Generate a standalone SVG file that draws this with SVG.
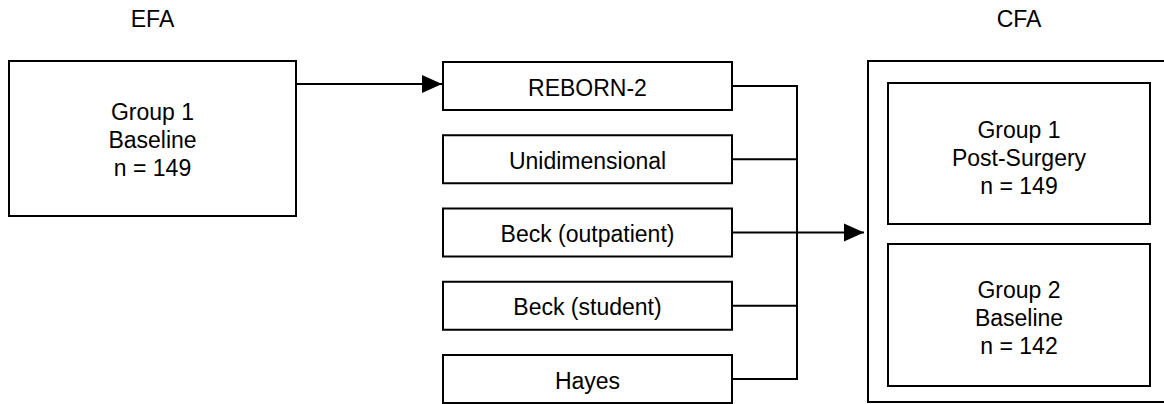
<svg xmlns="http://www.w3.org/2000/svg" width="1164" height="404" viewBox="0 0 1164 404">
<style>
.box{fill:#fff;stroke:#000;stroke-width:2}
.t{font-family:"Liberation Sans",Arial,sans-serif;font-size:23px;fill:#000;text-anchor:middle}
.c{fill:none;stroke:#000;stroke-width:2}
</style>
<defs>
<marker id="ah" markerUnits="userSpaceOnUse" markerWidth="20" markerHeight="20" viewBox="0 0 20 20" refX="20" refY="10" orient="auto">
<path d="M0,1 L20,10 L0,19 Z" fill="#000"/>
</marker>
</defs>
<rect width="1164" height="404" fill="#fff"/>
<g id="label-efa"><text class="t" x="152.5" y="27">EFA</text></g>
<g id="label-cfa"><text class="t" x="1019" y="27">CFA</text></g>
<g id="efa-group1">
<rect class="box" x="9" y="61" width="287" height="155"/>
<text class="t" x="152.5" y="120">Group 1</text>
<text class="t" x="152.5" y="148">Baseline</text>
<text class="t" x="152.5" y="176">n = 149</text>
</g>
<g id="reborn2"><rect class="box" x="443" y="62" width="289" height="48"/><text class="t" x="587.5" y="95.5">REBORN-2</text></g>
<g id="unidimensional"><rect class="box" x="443" y="135.25" width="289" height="48"/><text class="t" x="587.5" y="168.75">Unidimensional</text></g>
<g id="beck-outpatient"><rect class="box" x="443" y="208.5" width="289" height="48"/><text class="t" x="587.5" y="242">Beck (outpatient)</text></g>
<g id="beck-student"><rect class="box" x="443" y="281.75" width="289" height="48"/><text class="t" x="587.5" y="315.25">Beck (student)</text></g>
<g id="hayes"><rect class="box" x="443" y="355" width="289" height="48"/><text class="t" x="587.5" y="388.5">Hayes</text></g>
<g id="cfa-container"><rect class="box" x="868" y="61" width="320" height="341"/></g>
<g id="cfa-group1">
<rect class="box" x="888" y="83" width="262" height="141"/>
<text class="t" x="1019" y="137.5">Group 1</text>
<text class="t" x="1019" y="165.5">Post-Surgery</text>
<text class="t" x="1019" y="193.5">n = 149</text>
</g>
<g id="cfa-group2">
<rect class="box" x="888" y="244" width="262" height="142"/>
<text class="t" x="1019" y="297.5">Group 2</text>
<text class="t" x="1019" y="325.5">Baseline</text>
<text class="t" x="1019" y="353.5">n = 142</text>
</g>
<g id="connectors">
<path class="c" d="M296,84 H442" marker-end="url(#ah)"/>
<path class="c" d="M732,86 H797 M732,159.25 H797 M732,305.75 H797 M732,379 H797 M797,85 V380"/>
<path class="c" d="M732,232.5 H864" marker-end="url(#ah)"/>
</g>
</svg>
